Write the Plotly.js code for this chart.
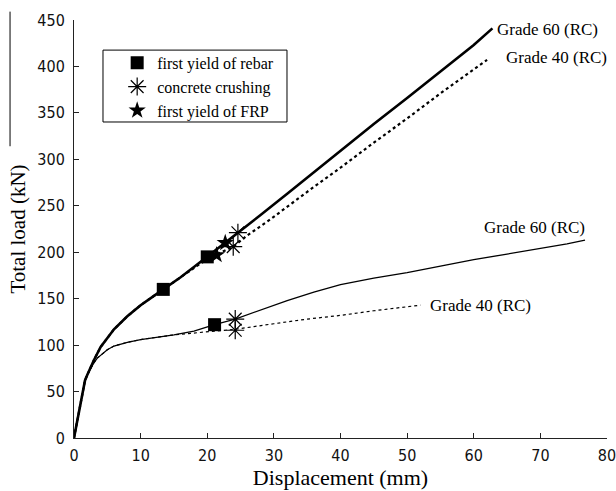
<!DOCTYPE html>
<html>
<head>
<meta charset="utf-8">
<script src="https://cdn.plot.ly/plotly-3.0.1.min.js"></script>
<style>html,body{margin:0;padding:0;background:#fff;}#chart{width:616px;height:491px;}</style>
</head>
<body>
<div id="chart"></div>
<script>
// Upper curves (with FRP)
const g60UpperX = [0, 0.5, 1, 1.65, 2, 3, 4, 5, 6, 8, 10, 12, 13.4, 16, 18, 20, 22.7, 24.6, 28, 32, 36, 40, 45, 50, 55, 60, 62.8];
const g60UpperY = [0, 19, 38, 62, 68, 84, 98, 108, 117, 131, 143, 153, 160, 173, 184, 195, 210, 221, 240, 263, 286, 310, 338, 366, 394, 423, 441];
const g40UpperX = [0, 0.5, 1, 1.65, 2, 3, 4, 5, 6, 8, 10, 12, 13.4, 15, 17, 19, 21.2, 23.9, 26, 29.4, 35, 40, 45, 50, 55, 60, 62];
const g40UpperY = [0, 19, 38, 62, 68, 84, 98, 108, 117, 131, 143, 153, 160, 168, 178, 188, 197, 206, 218, 235, 265, 291, 318, 344, 371, 397, 407];
// Lower curves
const g60LowerX = [0, 0.5, 1, 1.65, 2, 2.9, 3.5, 4.4, 5, 6, 8, 10, 12, 15, 18, 21.1, 24.2, 28, 32, 36, 40, 45, 50, 55, 60, 65, 70, 74, 76.7];
const g60LowerY = [0, 19, 38, 62, 68, 80, 86, 92, 95, 99, 103, 106, 108, 111, 115, 122, 128, 138, 148, 157, 165, 172, 178, 185, 192, 198, 204, 209, 213];
const g40LowerX = [0, 0.5, 1, 1.65, 2, 2.9, 3.5, 4.4, 5, 6, 8, 10, 12, 15, 18, 21, 24.1, 30, 35, 40, 45, 52];
const g40LowerY = [0, 19, 38, 62, 68, 80, 86, 92, 95, 99, 103, 106, 108, 111, 113, 115, 117, 123, 128, 132, 137, 143];
// Event markers
const rebarYieldX = [13.4, 20, 21.1];
const rebarYieldY = [160, 195, 122];
const crushingX = [24.6, 23.9, 24.2, 24.2];
const crushingY = [221, 206, 128, 116];
const frpYieldX = [22.7, 21.4];
const frpYieldY = [210, 197];
// Labels
const curveLabels = ["Grade 60 (RC)", "Grade 40 (RC)", "Grade 60 (RC)", "Grade 40 (RC)"];
const labelX = [63.2, 64.6, 61.3, 53.1];
const labelY = [440, 410, 227, 143];
const legendNames = ["first yield of rebar", "concrete crushing", "first yield of FRP"];
const xTicks = [0, 10, 20, 30, 40, 50, 60, 70, 80];
const yTicks = [0, 50, 100, 150, 200, 250, 300, 350, 400, 450];

const serif = "Liberation Serif, Times New Roman, serif";
const tickFont = "Liberation Sans Narrow, DejaVu Sans Condensed, Arial Narrow, sans-serif";

const traces = [
  {x: g60LowerX, y: g60LowerY, mode: 'lines', line: {color: '#000', width: 1.3}, showlegend: false, hoverinfo: 'skip'},
  {x: g40LowerX, y: g40LowerY, mode: 'lines', line: {color: '#000', width: 1.2, dash: 'dot'}, showlegend: false, hoverinfo: 'skip'},
  {x: g40UpperX, y: g40UpperY, mode: 'lines', line: {color: '#000', width: 2.2, dash: 'dot'}, showlegend: false, hoverinfo: 'skip'},
  {x: g60UpperX, y: g60UpperY, mode: 'lines', line: {color: '#000', width: 2.6}, showlegend: false, hoverinfo: 'skip'},
  {x: rebarYieldX, y: rebarYieldY, mode: 'markers', name: legendNames[0],
   marker: {symbol: 'square', size: 13, color: '#000'}},
  {x: crushingX, y: crushingY, mode: 'markers', name: legendNames[1],
   marker: {symbol: 'asterisk', size: 15, color: '#000', line: {color: '#000', width: 1.2}}},
  {x: frpYieldX, y: frpYieldY, mode: 'markers', name: legendNames[2],
   marker: {symbol: 'star', size: 13, color: '#000'}}
];

const annotations = curveLabels.map((t, i) => ({
  x: labelX[i], y: labelY[i], xref: 'x', yref: 'y', text: t, showarrow: false,
  xanchor: 'left', yanchor: 'middle', font: {family: serif, size: 17, color: '#000'}
}));

const layout = {
  width: 616, height: 491,
  margin: {l: 74, r: 9, t: 20, b: 53},
  paper_bgcolor: '#fff', plot_bgcolor: '#fff',
  showlegend: true,
  legend: {
    x: 0.081, y: 0.938, xanchor: 'left', yanchor: 'top',
    borderwidth: 0, bgcolor: 'rgba(0,0,0,0)',
    font: {family: serif, size: 16, color: '#000'},
    tracegroupgap: 0, itemwidth: 30
  },
  xaxis: {
    range: [0, 80], tickvals: xTicks, ticktext: xTicks.map(String),
    ticks: 'inside', ticklen: 5, tickcolor: '#222', showline: true, linecolor: '#222', linewidth: 1,
    showgrid: false, zeroline: false, mirror: false, ticklabelstandoff: 3, ticklabeloverflow: 'allow',
    tickfont: {family: tickFont, size: 16, color: '#111'},
    title: {text: 'Displacement (mm)', font: {family: serif, size: 22, color: '#000'}, standoff: 4}
  },
  yaxis: {
    range: [0, 450], tickvals: yTicks, ticktext: yTicks.map(String),
    ticks: 'inside', ticklen: 5, tickcolor: '#222', showline: true, linecolor: '#222', linewidth: 1,
    showgrid: false, zeroline: false, mirror: false, ticklabelstandoff: 5, ticklabeloverflow: 'allow',
    tickfont: {family: tickFont, size: 16, color: '#111'},
    title: {text: 'Total load (kN)', font: {family: serif, size: 21, color: '#000'}, standoff: 5}
  },
  annotations: annotations,
  shapes: [
    {type: 'line', xref: 'paper', yref: 'paper', x0: -0.12, x1: -0.12, y0: 0.698, y1: 1.02,
     line: {color: '#000', width: 1}},
    {type: 'rect', xref: 'paper', yref: 'paper', x0: 0.0544, x1: 0.3996, y0: 0.756, y1: 0.928,
     line: {color: '#000', width: 1}, fillcolor: '#fff', layer: 'above'}
  ]
};

Plotly.newPlot('chart', traces, layout, {displayModeBar: false, staticPlot: true});
</script>
</body>
</html>
